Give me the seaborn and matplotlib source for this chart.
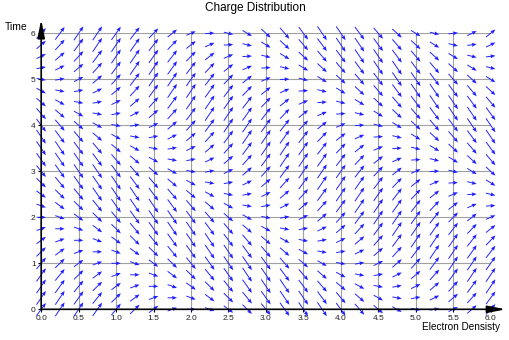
import numpy as np
import pandas as pd
import seaborn as sns
import matplotlib
matplotlib.use("Agg")
import matplotlib.pyplot as plt

# ---- data ----
x_values = [i * 0.25 for i in range(25)]          # Electron Densisty grid
y_values = [i * 0.25 for i in range(25)]          # Time grid
# arrow slope (dy/dx) read along each anti-diagonal x+y = 0, 0.25, ..., 12
diag_slope = [2.2, 2.4, 2.4, 2.3, 2.0, 1.6, 1.2, 0.6, 0.0, -0.6,
              -1.2, -1.6, -2.0, -2.3, -2.4, -2.4, -2.2, -1.9, -1.4, -0.9,
              -0.3, 0.3, 0.8, 1.4, 1.8, 2.2, 2.4, 2.4, 2.3, 2.1,
              1.7, 1.3, 0.7, 0.1, -0.4, -1.0, -1.5, -1.9, -2.2, -2.4,
              -2.4, -2.2, -1.9, -1.5, -1.0, -0.4, 0.2, 0.8, 1.3]
x_ticks = [0.0, 0.5, 1.0, 1.5, 2.0, 2.5, 3.0, 3.5, 4.0, 4.5, 5.0, 5.5, 6.0]
x_tick_labels = ["0.0", "0.5", "1.0", "1.5", "2.0", "2.5", "3.0", "3.5",
                 "4.0", "4.5", "5.0", "5.5", "6.0"]
y_ticks = [0, 1, 2, 3, 4, 5, 6]
y_tick_labels = ["0", "1", "2", "3", "4", "5", "6"]
title = "Charge Distribution"
x_label = "Electron Densisty"
y_label = "Time"

# build the field table
rows = []
for i, xv in enumerate(x_values):
    for j, yv in enumerate(y_values):
        rows.append((xv, yv, 1.0, diag_slope[i + j]))
df = pd.DataFrame(rows, columns=["x", "y", "u", "v"])

sns.set_theme(style="white")
plt.rcParams["font.family"] = ["Liberation Sans", "DejaVu Sans"]

fig = plt.figure(figsize=(5.1, 3.4), dpi=100)
ax = fig.add_axes([41.2 / 510, 1 - 309.3 / 340, 449.5 / 510, 276 / 340])
ax.set_xlim(0, 6)
ax.set_ylim(0, 6)

# grid
for gx in x_ticks[1:]:
    ax.axvline(gx, color="#a0a0a0", lw=0.8, zorder=1)
for gy in y_ticks[1:]:
    ax.axhline(gy, color="#a0a0a0", lw=0.8, zorder=1)

for s in ax.spines.values():
    s.set_visible(False)

q = ax.quiver(df["x"], df["y"], df["u"], df["v"], color="#1e1eff",
              angles="xy", scale_units="xy", scale=8.0, pivot="middle",
              width=0.0021, headwidth=4.2, headlength=5.2, headaxislength=4.6,
              zorder=3)
q.set_clip_on(False)

# axis lines with arrow heads
ax.annotate("", xy=(6.2, 0), xytext=(0, 0), annotation_clip=False,
            arrowprops=dict(arrowstyle="-|>,head_length=0.9,head_width=0.18",
                            color="black", lw=1.2, shrinkA=0, shrinkB=0),
            zorder=4)
ax.annotate("", xy=(0, 6.3), xytext=(0, 0), annotation_clip=False,
            arrowprops=dict(arrowstyle="-|>,head_length=0.9,head_width=0.18",
                            color="black", lw=1.2, shrinkA=0, shrinkB=0),
            zorder=4)

ax.set_xticks(x_ticks)
ax.set_xticklabels(x_tick_labels)
ax.set_yticks(y_ticks)
ax.set_yticklabels(y_tick_labels)
ax.tick_params(axis="both", which="both", direction="out", length=2.5,
               width=0.8, color="black", labelsize=6, labelcolor="#222222",
               pad=1.5, bottom=True, left=True)

fig.text(0.5, 1 - 10.7 / 340, title, ha="center", va="baseline",
         fontsize=8.5, color="black")
fig.text(5 / 510, 1 - 30 / 340, y_label, ha="left", va="baseline",
         fontsize=7.5, color="black")
fig.text(500 / 510, 1 - 330 / 340, x_label, ha="right", va="baseline",
         fontsize=7.2, color="black")

fig.savefig("out.png", dpi=100)
